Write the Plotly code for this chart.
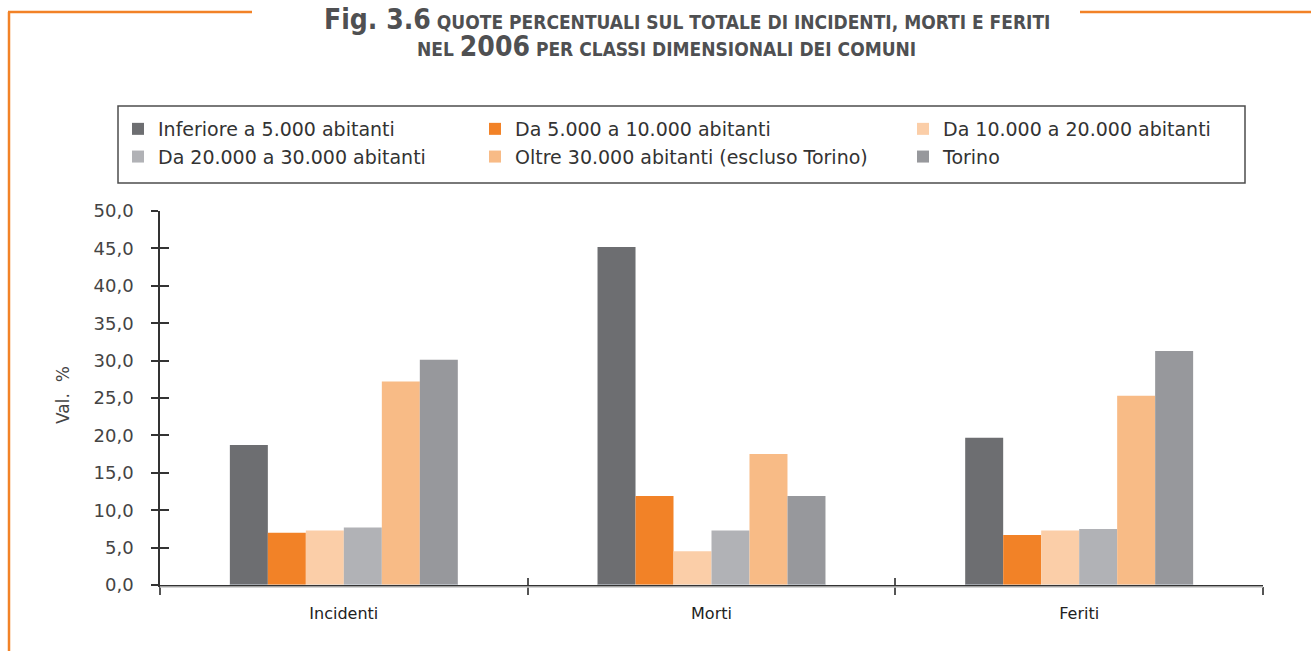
import plotly.graph_objects as go

categories = ["Incidenti", "Morti", "Feriti"]
series_names = [
    "Inferiore a 5.000 abitanti",
    "Da 5.000 a 10.000 abitanti",
    "Da 10.000 a 20.000 abitanti",
    "Da 20.000 a 30.000 abitanti",
    "Oltre 30.000 abitanti (escluso Torino)",
    "Torino",
]
inferiore_5000 = [18.7, 45.2, 19.7]
da_5000_10000 = [7.0, 11.9, 6.7]
da_10000_20000 = [7.3, 4.5, 7.3]
da_20000_30000 = [7.7, 7.3, 7.5]
oltre_30000 = [27.2, 17.5, 25.3]
torino = [30.1, 11.9, 31.3]
series_values = [inferiore_5000, da_5000_10000, da_10000_20000,
                 da_20000_30000, oltre_30000, torino]
colors = ["#6d6e71", "#f28227", "#fbcea8", "#b1b2b6", "#f8bb86", "#97989c"]
y_ticks = [0, 5, 10, 15, 20, 25, 30, 35, 40, 45, 50]
y_title = "Val.  %"

FONT = "DejaVu Sans, Verdana, sans-serif"

# legend column for each series (3 columns, 2 rows)
legend_ids = ["legend", "legend2", "legend3", "legend", "legend2", "legend3"]

fig = go.Figure()
for name, vals, col, lg in zip(series_names, series_values, colors, legend_ids):
    fig.add_trace(go.Bar(x=categories, y=vals, name=name, marker_color=col,
                         marker_line_width=0, legend=lg))
# invisible trace on the overlaid axes so their inside ticks render
fig.add_trace(go.Bar(x=categories, y=[0, 0, 0], xaxis="x2", yaxis="y2",
                     showlegend=False, hoverinfo="skip", marker_color="rgba(0,0,0,0)"))

W, H = 1311, 651
L, R, T, B = 160, 48, 211, 66
pw, ph = W - L - R, H - T - B


def px(x):
    return (x - L) / pw


def py(y):
    return (H - B - y) / ph


orange = "#f28227"
shapes = [
    dict(type="line", xref="paper", yref="paper", x0=px(8), x1=px(252), y0=py(12), y1=py(12),
         line=dict(color=orange, width=2.5)),
    dict(type="line", xref="paper", yref="paper", x0=px(9), x1=px(9), y0=py(12), y1=py(660),
         line=dict(color=orange, width=2.5)),
    dict(type="line", xref="paper", yref="paper", x0=px(1080), x1=px(1320), y0=py(12), y1=py(12),
         line=dict(color=orange, width=2.5)),
    dict(type="line", xref="paper", yref="paper", x0=0, x1=1, y0=py(587), y1=py(587),
         line=dict(color="#c8c8c8", width=1.5)),
    # legend frame
    dict(type="rect", xref="paper", yref="paper", x0=px(118), x1=px(1245), y0=py(106), y1=py(183),
         line=dict(color="#4d4d4d", width=1.5), fillcolor="rgba(0,0,0,0)", layer="above"),
]

title_color = "#4f5052"
TFONT = "Liberation Sans Narrow, DejaVu Sans Condensed, Roboto, sans-serif"
annotations = [
    dict(xref="paper", yref="paper", x=px(687), y=py(20), xanchor="center", yanchor="middle",
         showarrow=False,
         text="<b><span style='font-size:28px'>Fig. 3.6</span> QUOTE PERCENTUALI SUL TOTALE DI INCIDENTI, MORTI E FERITI</b>",
         font=dict(family=TFONT, size=19, color=title_color)),
    dict(xref="paper", yref="paper", x=px(666), y=py(46), xanchor="center", yanchor="middle",
         showarrow=False,
         text="<b>NEL <span style='font-size:28px'>2006</span> PER CLASSI DIMENSIONALI DEI COMUNI</b>",
         font=dict(family=TFONT, size=19, color=title_color)),
    dict(xref="paper", yref="paper", x=px(63), y=py(395), xanchor="center", yanchor="middle",
         showarrow=False, textangle=-90, text=y_title,
         font=dict(family=FONT, size=17, color="#444444")),
]


def legend_col(x_px):
    return dict(
        orientation="v", xref="container", yref="container",
        x=x_px / W, y=1 - 110 / H, xanchor="left", yanchor="top",
        borderwidth=0, bgcolor="rgba(0,0,0,0)",
        font=dict(family=FONT, size=19, color="#333333"),
        traceorder="normal", itemclick=False, itemdoubleclick=False,
    )


fig.update_layout(
    width=W, height=H,
    margin=dict(l=L, r=R, t=T, b=B, autoexpand=False),
    paper_bgcolor="white", plot_bgcolor="white",
    separators=",.",
    barmode="group", bargap=0.38, bargroupgap=0,
    font=dict(family=FONT, color="#333333"),
    showlegend=True,
    legend=legend_col(118),
    legend2=legend_col(475),
    legend3=legend_col(903),
    xaxis=dict(
        type="category", range=[-0.5, 2.5], showline=True, linecolor="#333333", linewidth=2,
        ticks="outside", tickson="boundaries", ticklen=8, tickwidth=2, tickcolor="#555555",
        showgrid=False, automargin=False, ticklabelstandoff=13,
        tickfont=dict(family=FONT, size=16, color="#222222"),
    ),
    yaxis=dict(
        range=[0, 50], tickvals=y_ticks, tickformat=".1f", showline=True,
        linecolor="#333333", linewidth=1.5, ticks="outside", ticklen=7, tickwidth=1.5,
        tickcolor="#333333", showgrid=False, zeroline=False, automargin=False,
        ticklabelstandoff=14,
        tickfont=dict(family=FONT, size=18, color="#444444"),
    ),
    xaxis2=dict(
        type="category", range=[-0.5, 2.5], overlaying="x",
        ticks="inside", tickson="boundaries", ticklen=7, tickwidth=2, tickcolor="#555555",
        showticklabels=False, showgrid=False, showline=False, automargin=False,
    ),
    yaxis2=dict(
        range=[0, 50], tickvals=y_ticks, overlaying="y", ticks="inside", ticklen=9,
        tickwidth=1.5, tickcolor="#333333", showticklabels=False, showgrid=False,
        zeroline=False, showline=False, automargin=False,
    ),
    shapes=shapes,
    annotations=annotations,
)

fig.write_html("out.html", config={"displayModeBar": False},
               post_script="document.body.style.margin='0';document.body.style.overflow='hidden';")
